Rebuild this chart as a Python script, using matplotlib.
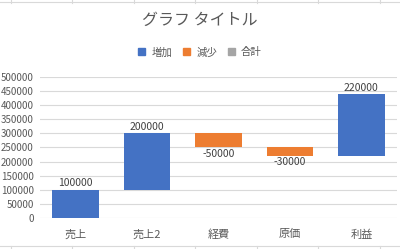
import matplotlib
matplotlib.use('Agg')
import matplotlib.pyplot as plt
from matplotlib.patches import Patch
from matplotlib.lines import Line2D
import numpy as np

plt.rcParams['font.family'] = ['Noto Sans CJK JP', 'DejaVu Sans']

categories = ['売上', '売上2', '経費', '原価', '利益']
values = [100000, 200000, -50000, -30000, 220000]
yticks = [0, 50000, 100000, 150000, 200000, 250000, 300000, 350000, 400000, 450000, 500000]
legend_labels = ['増加', '減少', '合計']

blue = '#4472C4'
orange = '#ED7D31'
gray = '#A5A5A5'
text_col = '#595959'
grid_col = '#D9D9D9'

# running totals for the waterfall
ends = np.cumsum(values)
starts = ends - np.array(values)

fig = plt.figure(figsize=(4.0, 2.49), dpi=100)
ax = fig.add_axes([0.1, 0.1245, 0.8925, 0.5663])

x = np.arange(len(categories))
colors = [blue if v >= 0 else orange for v in values]
ax.bar(x, values, bottom=starts, width=0.65, color=colors, zorder=3)

for xi, s, e, v in zip(x, starts, ends, values):
    if v >= 0:
        ax.annotate(str(v), (xi, e), xytext=(0, 1), textcoords='offset points',
                    ha='center', va='bottom', fontsize=7.5, color='#404040')
    else:
        ax.annotate(str(v), (xi, e), xytext=(0, -1), textcoords='offset points',
                    ha='center', va='top', fontsize=7.5, color='#404040')

ax.set_xlim(-0.5, len(categories) - 0.5)
ax.set_ylim(0, 500000)
ax.set_yticks(yticks)
ax.set_yticklabels([str(t) for t in yticks])
ax.set_xticks(x)
ax.set_xticklabels(categories)
ax.tick_params(axis='both', length=0, colors=text_col)
ax.tick_params(axis='y', labelsize=7, pad=4.5)
ax.tick_params(axis='x', labelsize=8, pad=8)
ax.grid(axis='y', color=grid_col, linewidth=0.8, zorder=0)
for sp in ax.spines.values():
    sp.set_visible(False)

fig.text(0.5, 0.92, 'グラフ タイトル', ha='center', va='center', fontsize=11.5, color=text_col)

handles = [Patch(color=c) for c in (blue, orange, gray)]
fig.legend(handles, legend_labels, loc='center', bbox_to_anchor=(0.5, 0.79), ncol=3,
           frameon=False, fontsize=7.5, labelcolor=text_col, handlelength=0.7, handleheight=0.7,
           handletextpad=0.6, columnspacing=1.0)

# spreadsheet cell lines peeking out above and below the chart
for yy in (1 - 2 / 249, 1 - 246 / 249):
    fig.add_artist(Line2D([0, 1], [yy, yy], color=grid_col, linewidth=0.8))
for xx in (11, 72, 134, 195, 257, 318, 380):
    fig.add_artist(Line2D([xx / 400, xx / 400], [1, 1 - 3 / 249], color=grid_col, linewidth=0.8))
    fig.add_artist(Line2D([xx / 400, xx / 400], [1 - 246 / 249, 0], color=grid_col, linewidth=0.8))

fig.savefig('out.png', dpi=100)
